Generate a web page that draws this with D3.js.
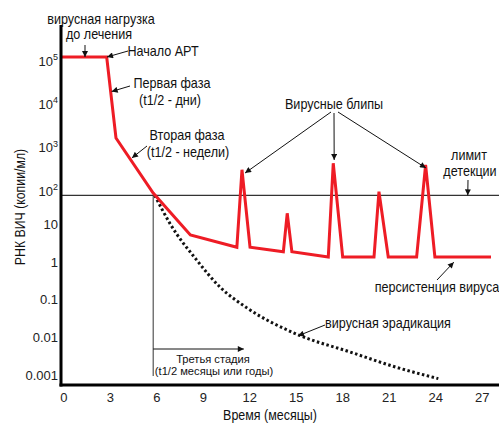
<!DOCTYPE html>
<html lang="ru">
<head>
<meta charset="UTF-8">
<title>РНК ВИЧ</title>
<script src="https://d3js.org/d3.v7.min.js"></script>
<style>
  body { margin: 0; background: #fff; }
  svg text { font-family: "Liberation Sans", Arial, sans-serif; fill: #111; }
</style>
</head>
<body>
<svg width="499" height="423"></svg>
<script>
// ---- data (months, copies/ml) ----
const xTicks = [0, 3, 6, 9, 12, 15, 18, 21, 24, 27];
const yTicks = [1e5, 1e4, 1e3, 1e2, 10, 1, 0.1, 0.01, 0.001];
const yTickLabels = [["10", "5"], ["10", "4"], ["10", "3"], ["10", "2"], ["10"], ["1"], ["0.1"], ["0.01"], ["0.001"]];

// red curve: load under therapy with blips
const loadMonths = [-0.1, 2.8, 3.4, 5.8, 8.2, 11.2, 11.53, 12.05, 14.2, 14.45, 14.75, 17.1, 17.42, 18.03, 20.05, 20.37, 20.97, 22.8, 23.38, 23.98, 27.6];
const loadValues = [1e5, 1e5, 1350, 69, 5.3, 2.5, 250, 2.5, 1.9, 20, 1.9, 1.37, 353, 1.37, 1.37, 75, 1.37, 1.37, 322, 1.37, 1.37];

// dotted curve: eradication
const eradMonths = [5.9, 6.9, 8.6, 10.1, 11.85, 15.1, 18.5, 21.5, 24.2];
const eradValues = [60, 10.4, 1.15, 0.22, 0.061, 0.012, 0.0041, 0.0016, 0.0008];

const detectionLimit = 60;
const thirdStageMonth = 5.8;

// ---- scales ----
const svg = d3.select("svg");
const x = d3.scaleLinear().domain([0, 27]).range([63.3, 481.7]);
const y = d3.scaleLog().domain([0.001, 100, 1e5]).range([375, 187, 57]);
const axisY = 385, axisX = 61;

const defs = svg.append("defs");
defs.append("marker")
  .attr("id", "arr")
  .attr("viewBox", "0 0 10 10")
  .attr("refX", 10).attr("refY", 5)
  .attr("markerWidth", 7).attr("markerHeight", 6)
  .attr("markerUnits", "userSpaceOnUse")
  .attr("orient", "auto")
  .append("path").attr("d", "M0,0 L10,5 L0,10 Z").attr("fill", "#111");

// condensed text, like the narrow face of the original
function label(cx, cy, txt, size, sx, rot) {
  svg.append("g")
    .attr("transform", `translate(${cx},${cy}) rotate(${rot || 0}) scale(${sx},1)`)
    .append("text")
    .attr("dy", "0.35em").attr("text-anchor", "middle")
    .attr("font-size", size).text(txt);
}

// detection limit
svg.append("line")
  .attr("x1", axisX).attr("x2", 499)
  .attr("y1", y(detectionLimit)).attr("y2", y(detectionLimit))
  .attr("stroke", "#333").attr("stroke-width", 1.2);

// third stage bracket
svg.append("line")
  .attr("x1", x(thirdStageMonth)).attr("x2", x(thirdStageMonth))
  .attr("y1", y(detectionLimit)).attr("y2", 376)
  .attr("stroke", "#333").attr("stroke-width", 1);
svg.append("line")
  .attr("x1", x(thirdStageMonth)).attr("x2", x(11.65))
  .attr("y1", 349).attr("y2", 349)
  .attr("stroke", "#111").attr("stroke-width", 1)
  .attr("marker-end", "url(#arr)");

// dotted eradication curve
svg.append("path")
  .datum(d3.zip(eradMonths, eradValues))
  .attr("d", d3.line().x(d => x(d[0])).y(d => y(d[1])).curve(d3.curveMonotoneX))
  .attr("fill", "none").attr("stroke", "#111")
  .attr("stroke-width", 3).attr("stroke-dasharray", "2.5,2.5");

// red viral load line
svg.append("path")
  .datum(d3.zip(loadMonths, loadValues))
  .attr("d", d3.line().x(d => x(d[0])).y(d => y(d[1])))
  .attr("fill", "none").attr("stroke", "#ee1c25")
  .attr("stroke-width", 3).attr("stroke-linejoin", "miter");

// axes
svg.append("line").attr("x1", axisX).attr("x2", axisX).attr("y1", 25).attr("y2", axisY + 1.5)
  .attr("stroke", "#000").attr("stroke-width", 3);
svg.append("line").attr("x1", axisX - 1.5).attr("x2", 499).attr("y1", axisY).attr("y2", axisY)
  .attr("stroke", "#000").attr("stroke-width", 3);

const xAxis = svg.append("g")
  .attr("transform", `translate(0,${axisY})`)
  .call(d3.axisBottom(x).tickValues(xTicks).tickSize(0).tickPadding(8));
xAxis.select(".domain").remove();
xAxis.selectAll("text").attr("font-size", 13).attr("font-family", null).style("fill", "#222");

const yLab = svg.append("g").selectAll("text")
  .data(yTicks)
  .join("text")
  .attr("x", 58)
  .attr("y", (d, i) => y(d) + (yTickLabels[i].length > 1 ? 4 : 0))
  .attr("dy", "0.35em")
  .attr("text-anchor", "end")
  .attr("font-size", 13)
  .style("fill", "#222");
yLab.each(function(d, i) {
  const t = d3.select(this), lab = yTickLabels[i];
  t.append("tspan").text(lab[0]);
  if (lab[1]) t.append("tspan").attr("font-size", 9).attr("dy", "-0.6em").text(lab[1]);
});

// axis titles
label(270, 415, "Время (месяцы)", 14, 0.89);
label(20, 207, "РНК ВИЧ (копии/мл)", 14, 0.88, -90);

// annotations: [cx, cy, text, size, squeeze]
const notes = [
  [101, 19, "вирусная нагрузка", 14, 0.9],
  [99, 34, "до лечения", 14, 0.9],
  [163, 51, "Начало АРТ", 14, 0.9],
  [172, 83, "Первая фаза", 14, 0.9],
  [170, 100, "(t1/2 - дни)", 14, 0.9],
  [187, 135, "Вторая фаза", 14, 0.9],
  [188, 152, "(t1/2 - недели)", 14, 0.9],
  [334, 104, "Вирусные блипы", 14, 0.9],
  [469, 155, "лимит", 14, 0.9],
  [470, 171, "детекции", 14, 0.9],
  [437, 287, "персистенция вируса", 14, 0.9],
  [388, 323, "вирусная эрадикация", 14, 0.9],
  [213, 359, "Третья стадия", 11.5, 0.97],
  [214, 370.5, "(t1/2 месяцы или годы)", 11.5, 0.97]
];
notes.forEach(n => label(n[0], n[1], n[2], n[3], n[4]));

// arrows: tail in px, tip on the data [month, value]
const arrows = [
  [[85, 45], [1.4, 1e5]],
  [[128, 51], [2.82, 1e5]],
  [[130, 86], [3.12, 16000]],
  [[147, 146], [4.43, 470]],
  [[331, 112], [11.73, 210]],
  [[334, 113], [17.48, 420]],
  [[338, 112], [23.4, 275]],
  [[468, 180], [26.1, detectionLimit]],
  [[437, 280], [25.2, 1.0]],
  [[325, 325], [15.15, 0.011]]
];
svg.append("g").selectAll("line").data(arrows).join("line")
  .attr("x1", d => d[0][0]).attr("y1", d => d[0][1])
  .attr("x2", d => x(d[1][0])).attr("y2", d => y(d[1][1]))
  .attr("stroke", "#111").attr("stroke-width", 1)
  .attr("marker-end", "url(#arr)");
</script>
</body>
</html>
